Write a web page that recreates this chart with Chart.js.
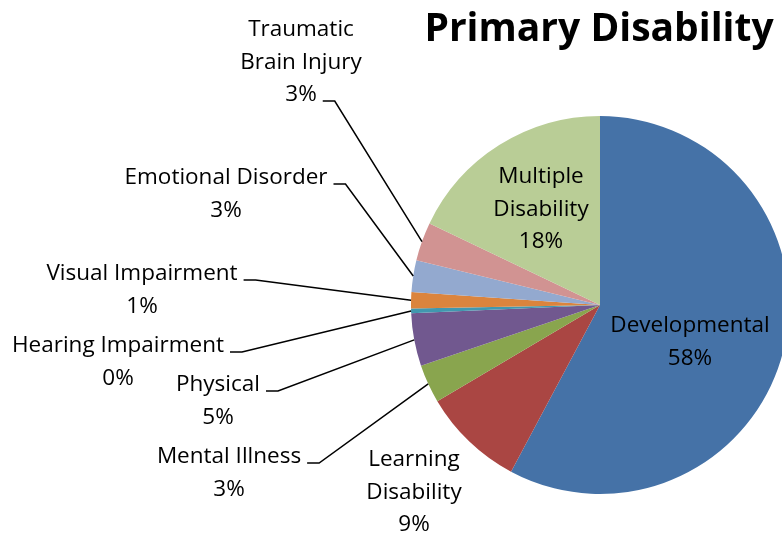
<!DOCTYPE html>
<html>
<head>
<meta charset="utf-8">
<script src="https://cdn.jsdelivr.net/npm/chart.js@4"></script>
<style>
  html, body { margin: 0; padding: 0; background: #fff; overflow: hidden; }
  #wrap { width: 782px; height: 537px; overflow: hidden; }
</style>
</head>
<body>
<div id="wrap"><canvas id="disabilityChart" width="800" height="537"></canvas></div>
<script>
// data (percent of total)
const categories = ['Developmental', 'Learning Disability', 'Mental Illness', 'Physical',
    'Hearing Impairment', 'Visual Impairment', 'Emotional Disorder', 'Traumatic Brain Injury', 'Multiple Disability'];
const percents = [57.8, 8.7, 3.3, 4.5, 0.4, 1.4, 2.7, 3.3, 17.9];
const labelLines = [['Developmental'], ['Learning', 'Disability'], ['Mental Illness'], ['Physical'],
    ['Hearing Impairment'], ['Visual Impairment'], ['Emotional Disorder'], ['Traumatic', 'Brain Injury'], ['Multiple', 'Disability']];
const sliceColors = ['#4572A7', '#AA4643', '#89A54E', '#71588F', '#4198AF', '#DB843D', '#93A9CF', '#D19392', '#B9CD96'];

// label placement: centre x, first line y, leader attach line (-1 = no leader)
const labelPos = [
    { x: 690, y: 326, leader: -1 },
    { x: 414, y: 460, leader: -1 },
    { x: 229, y: 457, leader: 0 },
    { x: 218, y: 385, leader: 0 },
    { x: 118, y: 346, leader: 0 },
    { x: 142, y: 274, leader: 0 },
    { x: 226, y: 178, leader: 0 },
    { x: 301, y: 30, leader: 2 },
    { x: 541, y: 177, leader: -1 }
];

const labelFont = '22.5px "Open Sans"';
const lineHeight = 32.5;

const pieLabels = {
    id: 'pieLabels',
    afterDatasetsDraw(chart) {
        const ctx = chart.ctx;
        const meta = chart.getDatasetMeta(0);
        const total = percents.reduce((a, b) => a + b, 0);
        ctx.save();
        ctx.font = labelFont;
        ctx.fillStyle = '#000';
        ctx.textAlign = 'center';
        ctx.textBaseline = 'middle';
        meta.data.forEach((arc, i) => {
            const lines = labelLines[i].concat([Math.round(percents[i] / total * 100) + '%']);
            const pos = labelPos[i];
            lines.forEach((t, j) => ctx.fillText(t, pos.x, pos.y + j * lineHeight));
            if (pos.leader >= 0) {
                const w = ctx.measureText(lines[pos.leader]).width;
                const sx = pos.x + w / 2 + 6;
                const sy = pos.y + pos.leader * lineHeight + 6;
                const mid = (arc.startAngle + arc.endAngle) / 2;
                const ax = arc.x + Math.cos(mid) * arc.outerRadius;
                const ay = arc.y + Math.sin(mid) * arc.outerRadius;
                ctx.beginPath();
                ctx.strokeStyle = '#000';
                ctx.lineWidth = 1.5;
                ctx.moveTo(sx, sy);
                ctx.lineTo(sx + 12, sy);
                ctx.lineTo(ax, ay);
                ctx.stroke();
            }
        });
        ctx.font = 'bold 39px "Open Sans"';
        ctx.fillText('Primary Disability', 599, 30);
        ctx.restore();
    }
};

new Chart(document.getElementById('disabilityChart').getContext('2d'), {
    type: 'pie',
    data: {
        labels: categories,
        datasets: [{
            data: percents,
            backgroundColor: sliceColors,
            borderWidth: 0
        }]
    },
    options: {
        responsive: false,
        animation: false,
        layout: {
            padding: { left: 411, right: 11, top: 116, bottom: 43 }
        },
        plugins: {
            legend: { display: false },
            tooltip: { enabled: false }
        }
    },
    plugins: [pieLabels]
});
</script>
</body>
</html>
